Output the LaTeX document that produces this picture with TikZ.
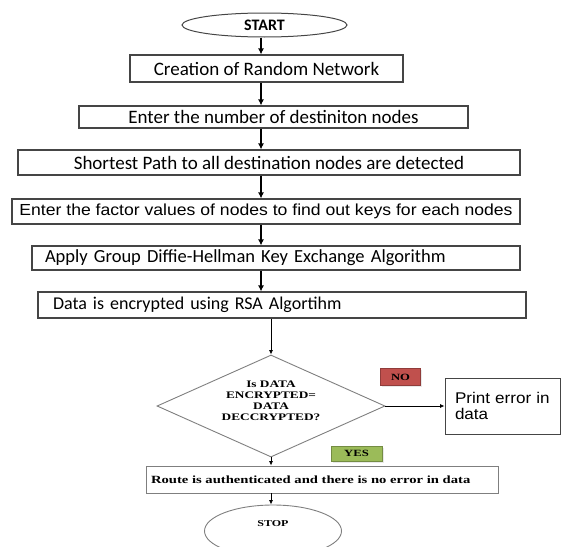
\documentclass[tikz,border=0pt]{standalone}
\usepackage{fontspec}
\setmainfont{Liberation Serif}
\newfontfamily\calfont{Carlito}
\newfontfamily\arialwide[FakeStretch=1.1]{Liberation Sans}
\newfontfamily\serifwide[FakeStretch=1.33]{Liberation Serif}
\usetikzlibrary{shapes.geometric,arrows.meta,shadows}

\definecolor{boxline}{HTML}{454545}
\definecolor{thinline}{HTML}{7F7F7F}
\definecolor{noRed}{HTML}{C0504D}
\definecolor{yesGreen}{HTML}{9BBB59}

\tikzset{
  stepbox/.style={draw=boxline, line width=1.1pt, rectangle, inner sep=0pt,
    font=\calfont\fontsize{19}{21}\selectfont},
  leftbox/.style={align=left, inner xsep=12pt},
  terminal/.style={ellipse, draw=boxline, line width=1pt, inner sep=0pt},
  decision/.style={diamond, draw=thinline, line width=0.9pt, inner sep=0pt},
  tag/.style={draw=#1!75!black, fill=#1, line width=0.4pt, inner sep=0pt,
    drop shadow={shadow xshift=1.5pt, shadow yshift=-1.5pt, fill=gray!35},
    font=\serifwide\bfseries\fontsize{9.5}{11}\selectfont},
  flowarrow/.style={-{Latex[length=6pt,width=6pt]}, line width=1.3pt},
  thinarrow/.style={-{Latex[length=4.5pt,width=4pt]}, line width=0.8pt}
}

\begin{document}
\begin{tikzpicture}[x=1pt,y=-1pt]
\useasboundingbox (0,0) rectangle (561,546);
\coordinate (spine) at (261,0);

\node[terminal, minimum width=165pt, minimum height=24pt,
  font=\calfont\bfseries\fontsize{16}{18}\selectfont] (start) at (264.5,25) {START};

\node[stepbox, minimum width=273pt, minimum height=27pt] (create) at (266.5,68.5) {Creation of Random Network};
\node[stepbox, minimum width=389pt, minimum height=22pt] (number) at (273.5,117) {Enter the number of destiniton nodes};
\node[stepbox, minimum width=502pt, minimum height=25pt] (path) at (269,162.5) {Shortest Path to all destination nodes are detected};
\node[stepbox, minimum width=508pt, minimum height=25pt,
  font=\arialwide\fontsize{16}{18}\selectfont] (factor) at (266,211.5) {Enter the factor values of nodes to find out keys for each nodes};
\node[stepbox, leftbox, inner xsep=13pt, text width=462pt, minimum height=24pt,
  font=\calfont\fontsize{18.5}{20}\selectfont] (group) at (276,258) {Apply Group Diffie-Hellman Key Exchange Algorithm};
\node[stepbox, leftbox, inner xsep=15pt, text width=458pt, minimum height=26pt,
  font=\calfont\fontsize{18}{20}\selectfont] (encrypt) at (282,305) {Data is encrypted using RSA Algortihm};

\node[decision, minimum width=228pt, minimum height=102pt] (check) at (271,406) {};
\node[align=center, font=\serifwide\bfseries\fontsize{10}{11}\selectfont] (checktext) at (271,401)
  {Is DATA\\ENCRYPTED=\\DATA\\DECCRYPTED?};

\node[draw=boxline, line width=0.9pt, text width=95pt, inner xsep=10pt, minimum height=56pt,
  align=left, font=\arialwide\fontsize{15.5}{16.5}\selectfont] (print) at (502.5,406) {Print error in\\data};

\node[tag=noRed, minimum width=40pt, minimum height=17pt] (no) at (400.5,377) {NO};
\node[tag=yesGreen, minimum width=51pt, minimum height=15pt] (yes) at (356.5,453.5) {YES};

\node[draw=thinline, line width=0.8pt, text width=342pt, inner xsep=5pt, minimum height=27pt,
  align=left, font=\serifwide\bfseries\fontsize{11}{13}\selectfont] (route) at (322,479.5)
  {Route is authenticated and there is no error in data};

\node[terminal, draw=thinline, line width=0.9pt, minimum width=137pt, minimum height=52pt] (stop) at (273,531) {};
\node[font=\serifwide\bfseries\fontsize{9}{11}\selectfont] (stoptext) at (273,524) {STOP};

% main chain
\draw[flowarrow] (start.south -| spine) -- (create.north -| spine);
\draw[flowarrow] (create.south -| spine) -- (number.north -| spine);
\draw[flowarrow] (number.south -| spine) -- (path.north -| spine);
\draw[flowarrow] (path.south -| spine) -- (factor.north -| spine);
\draw[flowarrow] (factor.south -| spine) -- (group.north -| spine);
\draw[flowarrow] (group.south -| spine) -- (encrypt.north -| spine);

% decision part
\draw[thinarrow] (encrypt.south -| check) -- (check.north);
\draw[thinarrow] (check.east) -- (print.west);
\draw[thinarrow] (check.south) -- (route.north -| check);
\draw[thinarrow] (route.south -| check) -- (stop.north -| check);

\end{tikzpicture}
\end{document}
